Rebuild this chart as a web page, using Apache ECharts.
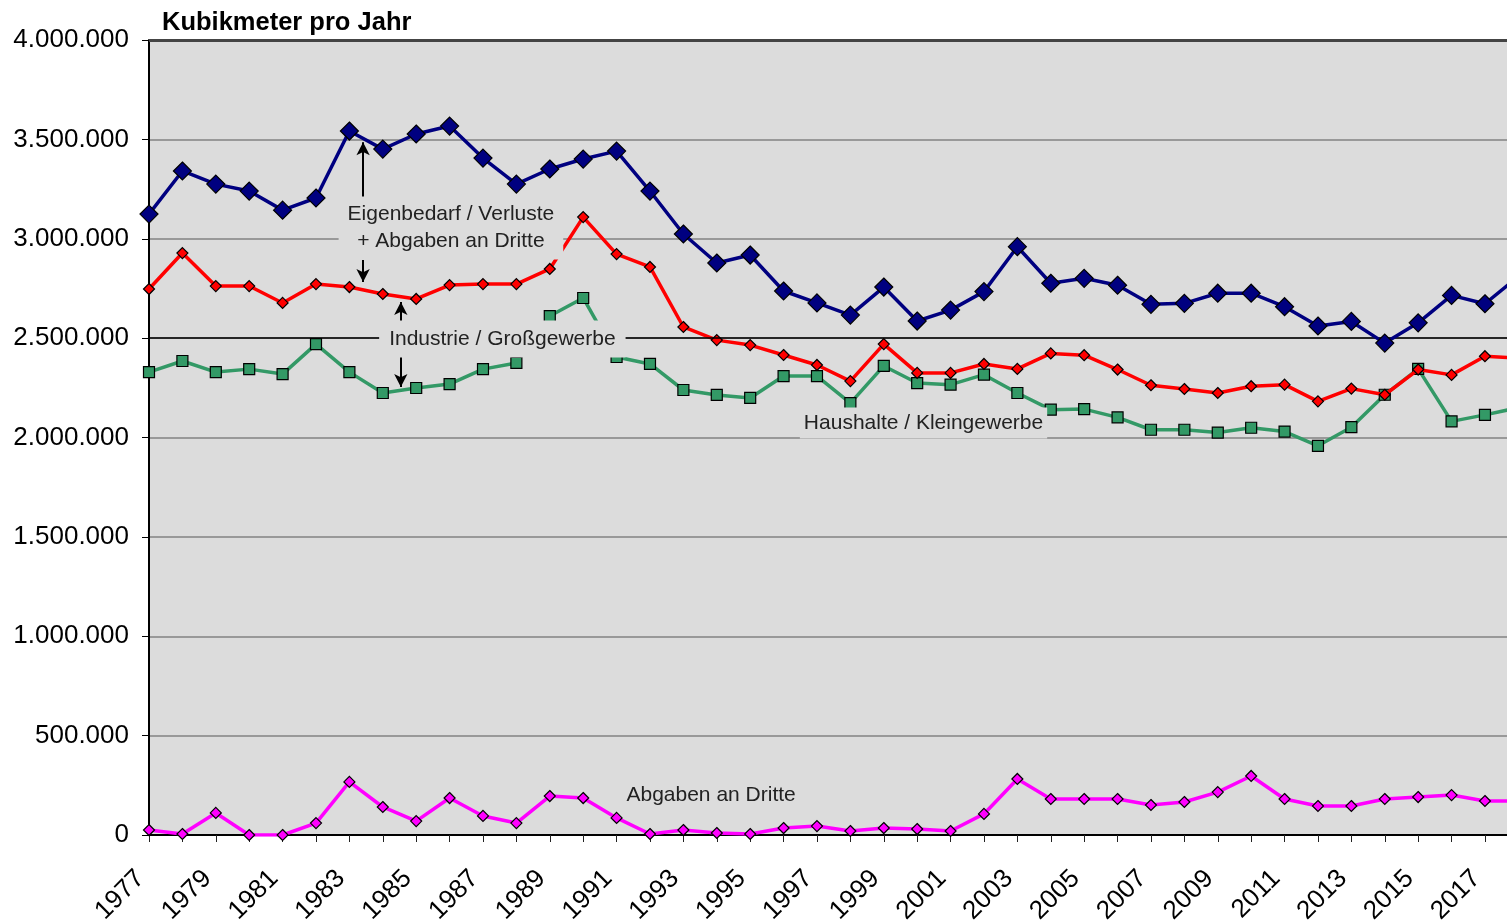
<!DOCTYPE html>
<html><head><meta charset="utf-8">
<script src="https://cdn.jsdelivr.net/npm/echarts@6/dist/echarts.min.js"></script>
<style>html,body{margin:0;padding:0;background:#fff}#c{width:1507px;height:921px}</style>
</head><body><div id="c"></div>
<script>
const years = [1977,1978,1979,1980,1981,1982,1983,1984,1985,1986,1987,1988,1989,1990,1991,1992,1993,1994,1995,1996,1997,1998,1999,2000,2001,2002,2003,2004,2005,2006,2007,2008,2009,2010,2011,2012,2013,2014,2015,2016,2017,2018];
// Eigenbedarf / Verluste + Abgaben an Dritte (Gesamt)
const gesamt = [3124000,3341000,3275000,3240000,3144000,3205000,3542000,3451000,3527000,3567000,3406000,3275000,3351000,3401000,3441000,3240000,3024000,2878000,2918000,2737000,2677000,2616000,2757000,2586000,2641000,2734000,2960000,2776000,2801000,2766000,2670000,2675000,2726000,2726000,2658000,2561000,2584000,2475000,2577000,2715000,2673000,2810000];
// Industrie / Großgewerbe
const industrie = [2747000,2928000,2762000,2762000,2677000,2772000,2757000,2722000,2697000,2767000,2772000,2772000,2848000,3109000,2923000,2858000,2556000,2490000,2465000,2415000,2365000,2284000,2470000,2325000,2325000,2370000,2345000,2423000,2414000,2342000,2263000,2244000,2224000,2258000,2266000,2182000,2246000,2215000,2342000,2315000,2409000,2400000];
// Haushalte / Kleingewerbe
const haushalte = [2329000,2385000,2329000,2344000,2319000,2470000,2329000,2224000,2249000,2269000,2344000,2375000,2611000,2702000,2405000,2370000,2239000,2214000,2199000,2309000,2309000,2173000,2360000,2274000,2266000,2316000,2224000,2140000,2143000,2101000,2039000,2039000,2025000,2049000,2030000,1958000,2052000,2215000,2345000,2081000,2114000,2150000];
// Abgaben an Dritte
const dritte = [25000,5000,111000,0,0,60000,267000,141000,70000,186000,96000,60000,196000,186000,86000,5000,25000,10000,5000,35000,45000,20000,35000,30000,20000,106000,282000,181000,181000,181000,151000,166000,216000,297000,181000,146000,146000,181000,191000,201000,171000,171000];

const yMin = 0, yMax = 4000000, yStep = 500000;
const xMin = 1977, xMax = 2017.66;

// annotation texts (data coords)
const notes = [
  {text: 'Eigenbedarf / Verluste\n+ Abgaben an Dritte', at: [1986.04, 3054000], pad: [3, 9, 6, 9]},
  {text: 'Industrie / Großgewerbe', at: [1987.58, 2495000], pad: [5, 10, 5, 10]},
  {text: 'Haushalte / Kleingewerbe', at: [2000.19, 2073000], pad: [2, 4, 2, 4]},
  {text: 'Abgaben an Dritte', at: [1993.83, 201000], pad: [2, 4, 2, 4]}
];
const arrows = [
  [[1983.41, 3210000], [1983.41, 3486000]],
  [[1983.41, 2893000], [1983.41, 2782000]],
  [[1984.54, 2581000], [1984.54, 2682000]],
  [[1984.54, 2405000], [1984.54, 2254000]]
];

const pairs = arr => years.map((y, i) => [y, arr[i]]);
const fmt = v => String(v).replace(/\B(?=(\d{3})+(?!\d))/g, '.');
const FONT = '"Liberation Sans", Arial, sans-serif';

const chart = echarts.init(document.getElementById('c'), null, {renderer: 'canvas'});
chart.setOption({
  animation: false,
  backgroundColor: '#ffffff',
  title: {
    text: 'Kubikmeter pro Jahr', left: 157, top: 5,
    textStyle: {fontFamily: FONT, fontWeight: 'bold', fontSize: 25.5, color: '#000'}
  },
  grid: {left: 149, right: 0, top: 40, bottom: 86, show: true, backgroundColor: '#dcdcdc', borderWidth: 0, containLabel: false, outerBoundsMode: 'none'},
  xAxis: {
    type: 'value', min: xMin, max: xMax, interval: 1,
    axisLine: {show: true, lineStyle: {color: '#000', width: 2}},
    axisTick: {show: true, length: 7, lineStyle: {color: '#222', width: 1}},
    splitLine: {show: false},
    axisLabel: {
      rotate: 45, margin: 31, fontFamily: FONT, fontSize: 26, color: '#000',
      padding: [0, 12, 0, 0],
      formatter: v => {
        const r = Math.round(v);
        return (Math.abs(v - r) < 1e-6 && r % 2 === 1) ? String(r) : '';
      }
    }
  },
  yAxis: {
    type: 'value', min: yMin, max: yMax, interval: yStep,
    axisLine: {show: true, lineStyle: {color: '#000', width: 2}},
    axisTick: {show: true, length: 7, lineStyle: {color: '#000', width: 1}},
    splitLine: {show: true, lineStyle: {color: '#999', width: 2}},
    axisLabel: {margin: 20, fontFamily: FONT, fontSize: 26, color: '#000', formatter: fmt}
  },
  series: [
    {
      type: 'line', data: [], z: 1, silent: true,
      markLine: {
        silent: true, symbol: ['none', 'none'], label: {show: false},
        data: [
          {yAxis: 2500000, lineStyle: {color: '#000', width: 1.5, type: 'solid'}},
          {yAxis: 4000000, lineStyle: {color: '#444', width: 3, type: 'solid'}}
        ]
      }
    },
    {
      type: 'line', data: [], z: 6, silent: true,
      markLine: {
        silent: true, symbol: ['none', 'arrow'], symbolSize: [10, 13], label: {show: false},
        lineStyle: {color: '#000', width: 2, type: 'solid'},
        data: arrows.map(a => [{coord: a[0]}, {coord: a[1]}])
      }
    },
    {
      name: 'Haushalte / Kleingewerbe', type: 'line', data: pairs(haushalte), z: 3,
      lineStyle: {color: '#339966', width: 3.5},
      itemStyle: {color: '#339966', borderColor: '#000', borderWidth: 1.2},
      symbol: 'rect', symbolSize: 11, showAllSymbol: true
    },
    {
      name: 'Industrie / Großgewerbe', type: 'line', data: pairs(industrie), z: 4,
      lineStyle: {color: '#ff0000', width: 3.5},
      itemStyle: {color: '#ff0000', borderColor: '#000', borderWidth: 1.2},
      symbol: 'diamond', symbolSize: 11, showAllSymbol: true
    },
    {
      name: 'Eigenbedarf / Verluste', type: 'line', data: pairs(gesamt), z: 5,
      lineStyle: {color: '#000080', width: 3.5},
      itemStyle: {color: '#000080', borderColor: '#000', borderWidth: 1.2},
      symbol: 'diamond', symbolSize: 18, showAllSymbol: true
    },
    {
      name: 'Abgaben an Dritte', type: 'line', data: pairs(dritte), z: 5,
      lineStyle: {color: '#ff00ff', width: 3.5},
      itemStyle: {color: '#ff00ff', borderColor: '#000', borderWidth: 1.2},
      symbol: 'diamond', symbolSize: 11, showAllSymbol: true
    }
  ]
});

const graphics = notes.map(n => {
  const p = chart.convertToPixel({gridIndex: 0}, n.at);
  return {
    type: 'text', x: p[0], y: p[1], z: 100, silent: true,
    style: {
      text: n.text, font: '21px ' + FONT, fill: '#222',
      align: 'center', verticalAlign: 'middle', lineHeight: 27,
      backgroundColor: '#dcdcdc', padding: n.pad
    }
  };
});
chart.setOption({graphic: graphics});
</script></body></html>
